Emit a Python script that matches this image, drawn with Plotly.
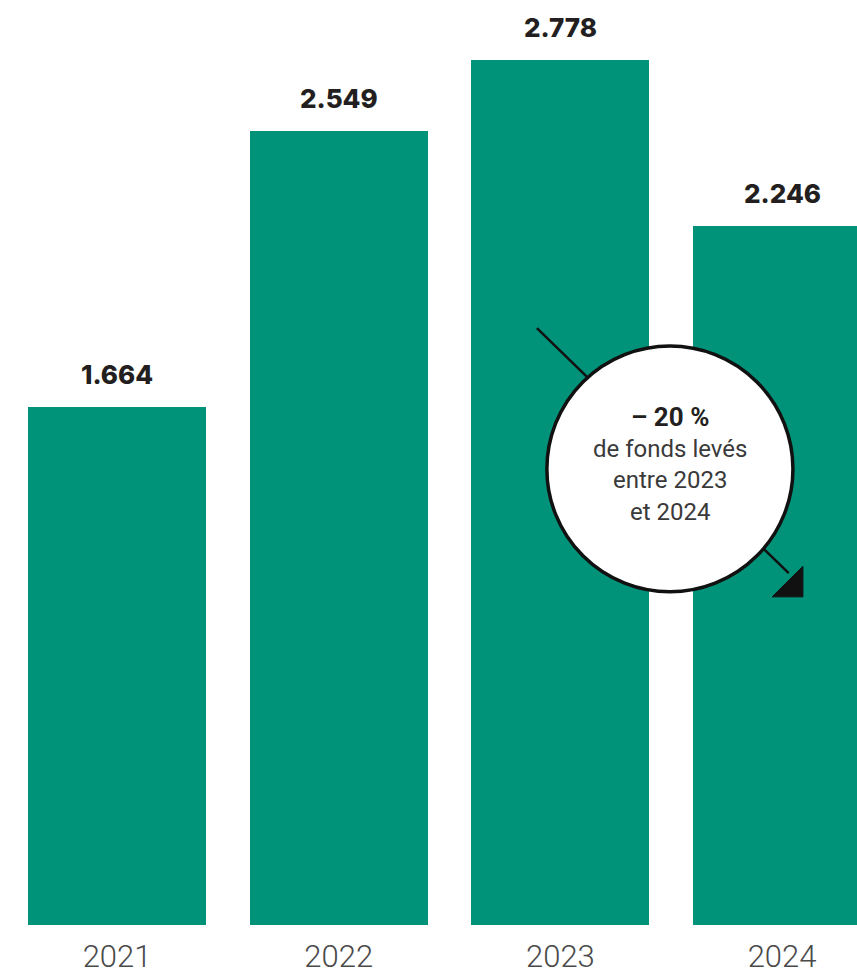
import plotly.graph_objects as go

years = ["2021", "2022", "2023", "2024"]
values = [1664, 2549, 2778, 2246]
value_labels = ["1.664", "2.549", "2.778", "2.246"]

BAR = "#00937A"
xpos = list(range(len(years)))

fig = go.Figure()
fig.add_trace(go.Bar(
    x=xpos, y=values, width=0.803, marker=dict(color=BAR, line=dict(width=0)),
    hoverinfo="skip", showlegend=False,
))

for x, v, t in zip(xpos, values, value_labels):
    fig.add_annotation(x=x, y=v, text=t, showarrow=False, yanchor="bottom", yshift=15,
                       font=dict(family="Inter", size=26, color="#231f20", weight=800))

# arrow line (under circle)
fig.add_shape(type="line", x0=1.894, y0=1917, x1=3.03, y1=1130, xref="x", yref="y",
              line=dict(color="#111111", width=2.5), layer="above")
# circle
fig.add_shape(type="circle", x0=2.494 - 0.555, x1=2.494 + 0.555, y0=1465 - 395, y1=1465 + 395,
              xref="x", yref="y", fillcolor="white", line=dict(color="#111111", width=3.5), layer="above")
# arrowhead
fig.add_shape(type="path", path="M 2.955 1054 L 3.094 1152 L 3.094 1054 Z", xref="x", yref="y",
              fillcolor="#111111", line=dict(color="#111111", width=1), layer="above")

fig.add_annotation(x=2.494, y=1465, xref="x", yref="y", showarrow=False,
                   text="<span style='font-size:26px;color:#231f20'><b>– 20 %</b></span><br>de fonds levés<br>entre 2023<br>et 2024",
                   font=dict(family="Roboto", size=24, color="#3a3a3a"), align="center",
                   yshift=5)

fig.update_layout(
    width=857, height=979, margin=dict(l=0, r=0, t=0, b=54),
    paper_bgcolor="white", plot_bgcolor="white", bargap=0,
    xaxis=dict(range=[-0.528, 3.338], tickvals=xpos, ticktext=years, showgrid=False,
               zeroline=False, showline=False, ticks="", ticklabelstandoff=10,
               tickfont=dict(family="Roboto", size=31, color="#4a4a4a", weight=300)),
    yaxis=dict(range=[0, 2971], visible=False, showgrid=False),
)
fig.write_html("out.html")
